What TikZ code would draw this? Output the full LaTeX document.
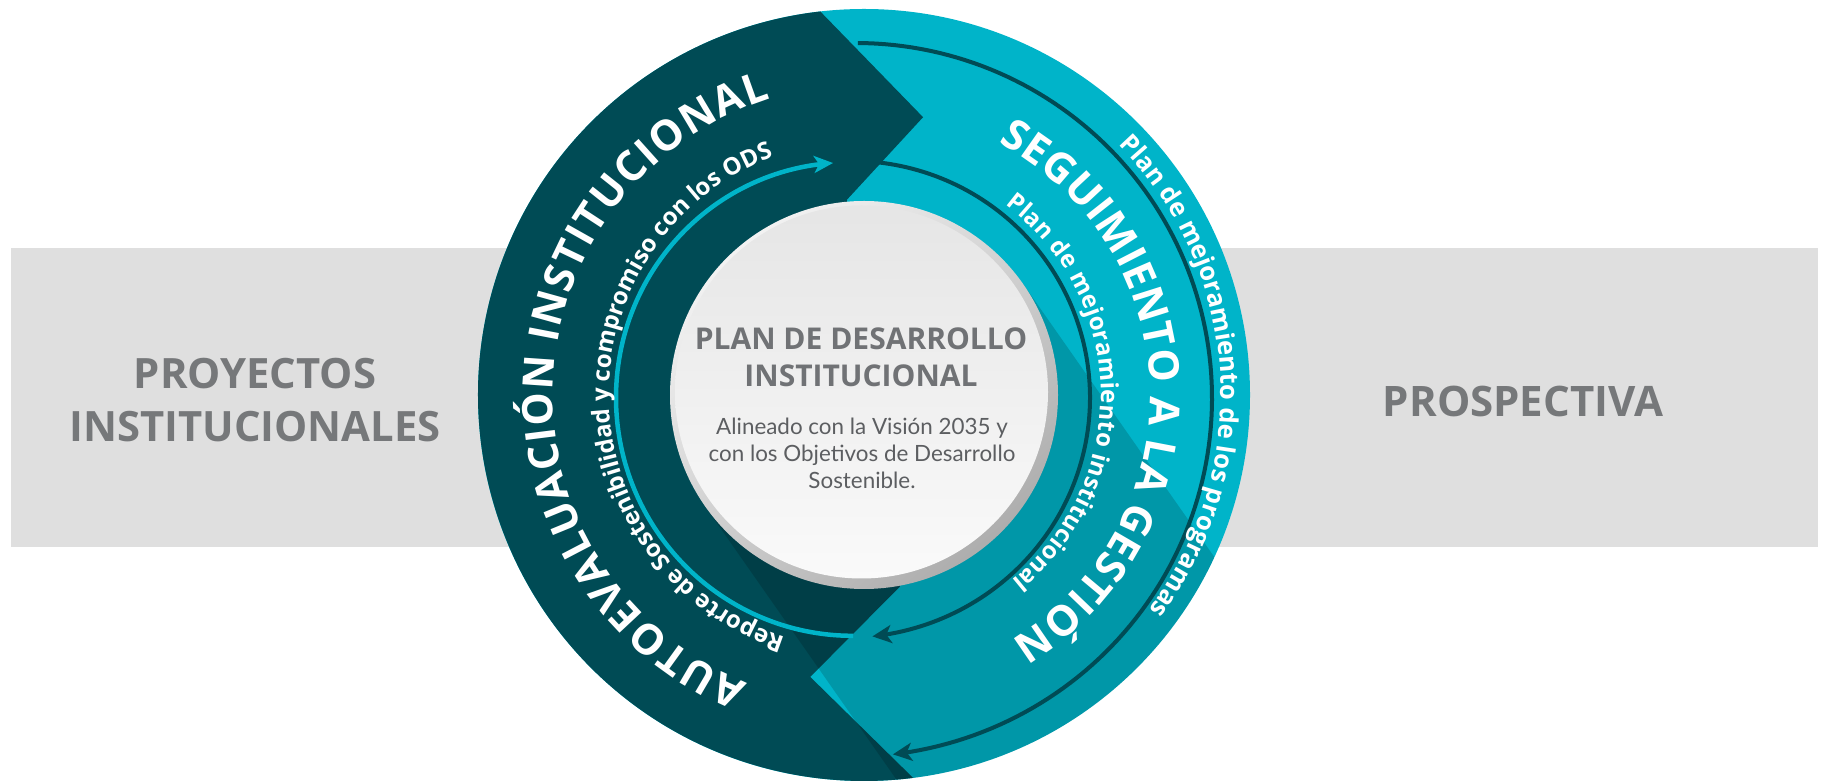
\documentclass[tikz,border=0pt]{standalone}
\usepackage{fontspec}
\newfontfamily\osans{Open Sans}
\newfontfamily\lato{Lato}
\usetikzlibrary{decorations.text, arrows.meta, calc}
\definecolor{darkteal}{RGB}{0,75,85}
\definecolor{cyanA}{RGB}{0,180,201}
\definecolor{bandgray}{RGB}{223,223,223}
\definecolor{labelgray}{RGB}{118,120,122}
\definecolor{titlegray}{RGB}{112,114,117}
\definecolor{bodygray}{RGB}{92,94,97}
\tikzset{
  sidelabel/.style={font=\osans\bfseries\fontsize{41.8}{41.8}\selectfont, text=labelgray, anchor=base, inner sep=0pt},
  titletext/.style={font=\osans\bfseries\fontsize{30}{30}\selectfont, text=titlegray, anchor=base, inner sep=0pt},
  bodytext/.style={font=\lato\fontsize{22.4}{22.4}\selectfont, text=bodygray, anchor=base, inner sep=0pt},
  darkarc/.style={darkteal, line width=4pt, -{Stealth[length=19pt,width=18pt,inset=5pt]}},
  cyanarc/.style={cyanA, line width=4.5pt, -{Stealth[length=19pt,width=17pt,inset=5pt]}},
}
\begin{document}
\begin{tikzpicture}[x=1pt,y=1pt]
\useasboundingbox (0,0) rectangle (1825,781);
\fill[white] (0,0) rectangle (1825,781);
% grey band
\fill[bandgray] (11,234) rectangle (1818,533);
\node[sidelabel] (proy1) at (255,392.7) {PROYECTOS};
\node[sidelabel] (proy2) at (255,339.3) {INSTITUCIONALES};
\node[sidelabel, font=\osans\bfseries\fontsize{42}{42}\selectfont] (prosp) at (1523,364.3) {PROSPECTIVA};

\begin{scope}[shift={(864,386)}]
\coordinate (C) at (0,0);
% ring
\fill[cyanA] (C) circle[radius=386];
\fill[darkteal] (96.5:386) arc[start angle=96.5, end angle=277.3, radius=386]
  -- (259.2:287) -- (280.6:195) -- (0,0) -- (95:196) -- (78:284) -- cycle;
% long shadow
\begin{scope}
\clip (C) circle[radius=386];
\fill[black, opacity=0.16] (35:194) -- ++(-55:500) -- ++(-145:388) -- (-145:194) -- cycle;
\end{scope}
% centre disc
\shade[top color=white!95!black, bottom color=black!32, shading angle=40] (C) circle[radius=194];
\shade[top color=black!10, bottom color=white!98!black] (-2.5,3) circle[radius=186.5];
% arrows
\draw[cyanarc] plot[domain=267.4:97.6, samples=120, variable=\t]
  (\t:{248+0.04857*(\t-180)-0.001472*(\t-180)*(\t-180)});
\draw[darkarc] plot[domain=86.5:-88, samples=120, variable=\t]
  (\t:{226-0.04649*\t+0.001473*\t*\t});
\draw[darkarc] plot[domain=91:-85.4, samples=120, variable=\t]
  (\t:{348-0.05422*\t+0.001079*\t*\t});
% curved texts
\path[decorate, decoration={text along path, text color=white, text align={fit to path},
  text={|\osans\bfseries\fontsize{42}{42}\selectfont|AUTOEVALUACIÓN INSTITUCIONAL}}]
  (248:311) arc[start angle=248, end angle=107.5, radius=311];
\path[decorate, decoration={text along path, text color=white, text align={fit to path},
  text={|\osans\bfseries\fontsize{24}{24}\selectfont|Reporte de Sostenibilidad y compromiso con los ODS}}]
  (252:255) arc[start angle=252, end angle=111.5, radius=255];
\path[decorate, decoration={text along path, text color=white, text align={fit to path},
  text={|\osans\bfseries\fontsize{42}{42}\selectfont|SEGUIMIENTO A LA GESTIÓN}}]
  (62:286) arc[start angle=62, end angle=-59, radius=286];
\path[decorate, decoration={text along path, text color=white, text align={fit to path},
  text={|\osans\bfseries\fontsize{24}{24}\selectfont|Plan de mejoramiento institucional}}]
  (53.5:237) arc[start angle=53.5, end angle=-51.5, radius=237];
\path[decorate, decoration={text along path, text color=white, text align={fit to path},
  text={|\osans\bfseries\fontsize{25.5}{25.5}\selectfont|Plan de mejoramiento de los programas}}]
  (44.5:357) arc[start angle=44.5, end angle=-36.5, radius=357];
\end{scope}
% centre texts
\node[titletext] (t1) at (861,431) {PLAN DE DESARROLLO};
\node[titletext] (t2) at (861,394) {INSTITUCIONAL};
\node[bodytext] (b1) at (862,346) {Alineado con la Visión 2035 y};
\node[bodytext] (b2) at (862,319.3) {con los Objetivos de Desarrollo};
\node[bodytext] (b3) at (862,292.7) {Sostenible.};
\end{tikzpicture}
\end{document}
